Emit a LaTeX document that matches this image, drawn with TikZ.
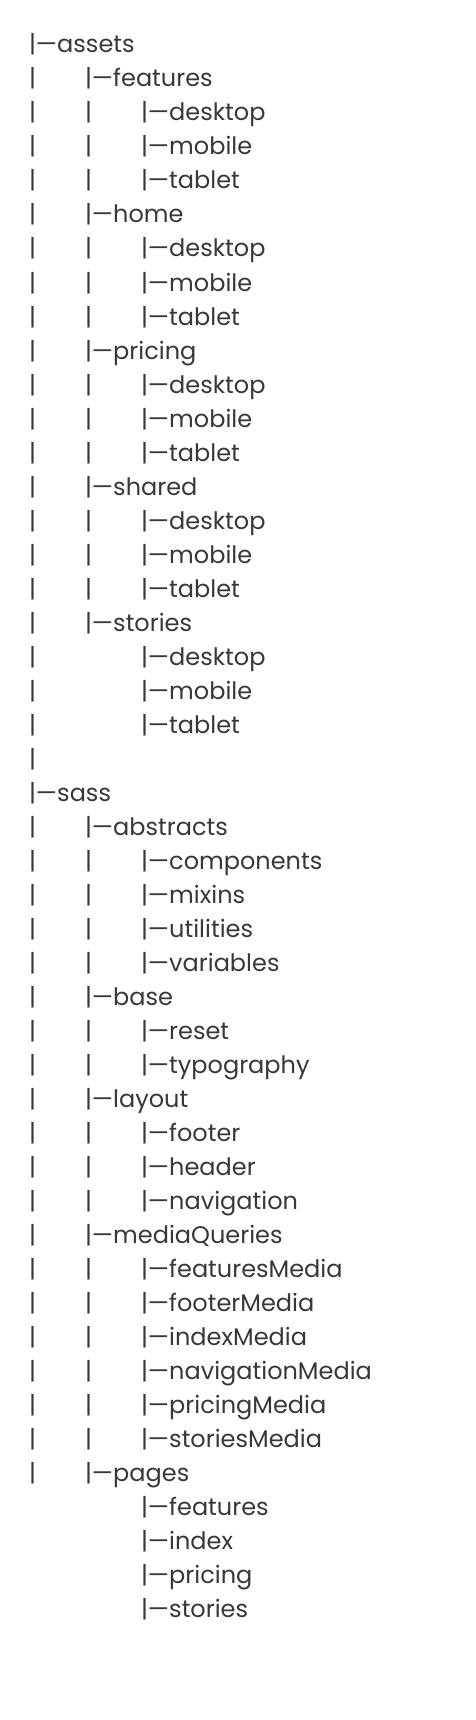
\documentclass[tikz,border=0pt]{standalone}
\usepackage{fontspec}
\setmainfont{Poppins}
\definecolor{ink}{HTML}{383838}
\begin{document}
\begin{tikzpicture}[x=1pt,y=-1pt,
  lbl/.style={anchor=base west, inner sep=0pt, outer sep=0pt, text=ink, font=\fontsize{24}{28}\selectfont}]
\useasboundingbox (0,0) rectangle (476,1720);
\foreach \i/\lev/\name/\mask in {
  1/0/assets/0, 2/1/features/1, 3/2/desktop/2, 4/2/mobile/2, 5/2/tablet/2,
  6/1/home/1, 7/2/desktop/2, 8/2/mobile/2, 9/2/tablet/2,
  10/1/pricing/1, 11/2/desktop/2, 12/2/mobile/2, 13/2/tablet/2,
  14/1/shared/1, 15/2/desktop/2, 16/2/mobile/2, 17/2/tablet/2,
  18/1/stories/1, 19/2/desktop/1, 20/2/mobile/1, 21/2/tablet/1,
  23/0/sass/0, 24/1/abstracts/1, 25/2/components/2, 26/2/mixins/2, 27/2/utilities/2, 28/2/variables/2,
  29/1/base/1, 30/2/reset/2, 31/2/typography/2,
  32/1/layout/1, 33/2/footer/2, 34/2/header/2, 35/2/navigation/2,
  36/1/mediaQueries/1, 37/2/featuresMedia/2, 38/2/footerMedia/2, 39/2/indexMedia/2,
  40/2/navigationMedia/2, 41/2/pricingMedia/2, 42/2/storiesMedia/2,
  43/1/pages/1, 44/2/features/0, 45/2/index/0, 46/2/pricing/0, 47/2/stories/0} {
  \pgfmathsetmacro\yy{53+34*(\i-1)}
  \node[lbl] (n\i) at ({29+56*\lev},\yy) {|—\name};
  \ifnum\mask>0 \node[lbl] (pa\i) at (29,\yy) {|}; \fi
  \ifnum\mask>1 \node[lbl] (pb\i) at (85,\yy) {|}; \fi
}
\node[lbl] (pa22) at (29,{53+34*21}) {|};
\end{tikzpicture}
\end{document}
